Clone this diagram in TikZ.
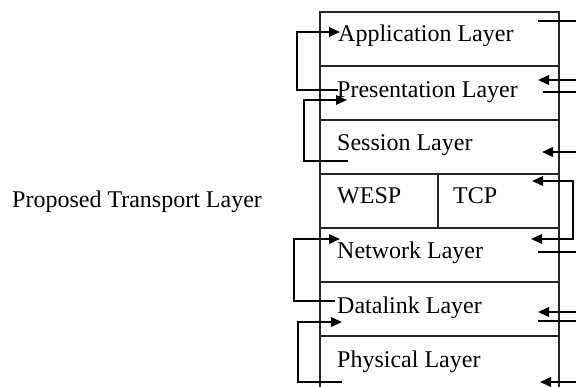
\documentclass[tikz,border=0pt]{standalone}
\usepackage{fontspec}
\setmainfont{Liberation Serif}
\usetikzlibrary{arrows.meta}
\begin{document}
\begin{tikzpicture}[x=1pt,y=-1pt,
  layerbox/.style={draw=black!85,line width=1.2pt,minimum width=239pt,inner sep=0pt,outer sep=0pt},
  lbl/.style={anchor=base west,inner sep=0pt,font=\fontsize{24}{28}\selectfont},
  link/.style={line width=2pt},
  arr/.style={line width=2pt,-{Triangle[length=11pt,width=9.5pt]}},
  darr/.style={line width=2pt,{Triangle[length=11pt,width=9.5pt]}-{Triangle[length=11pt,width=9.5pt]}}]
\useasboundingbox (0,0) rectangle (576,386);
\clip (0,0) rectangle (576,386);
% layer boxes
\node[layerbox,minimum height=54pt] (app) at (439.5,39) {};
\node[layerbox,minimum height=54pt] (pres) at (439.5,93) {};
\node[layerbox,minimum height=54pt] (sess) at (439.5,147) {};
\node[layerbox,minimum height=54pt,minimum width=118pt] (wesp) at (379,201) {};
\node[layerbox,minimum height=54pt,minimum width=121pt] (tcp) at (498.5,201) {};
\node[layerbox,minimum height=54pt] (net) at (439.5,255) {};
\node[layerbox,minimum height=54pt] (dl) at (439.5,309) {};
\node[layerbox,minimum height=60pt] (phy) at (439.5,366) {};
% labels
\node[lbl] (tapp) at (338,41) {Application Layer};
\node[lbl] (tpres) at (337,97) {Presentation Layer};
\node[lbl] (tsess) at (337,150) {Session Layer};
\node[lbl] (twesp) at (337,203) {WESP};
\node[lbl] (ttcp) at (453,203) {TCP};
\node[lbl] (tnet) at (337,258) {Network Layer};
\node[lbl] (tdl) at (337,313) {Datalink Layer};
\node[lbl] (tphy) at (337,367) {Physical Layer};
\node[lbl] (tprop) at (12,207) {Proposed Transport Layer};
% left connector points
\coordinate (l1s) at (338,90); \coordinate (l1a) at (297,90); \coordinate (l1b) at (297,32); \coordinate (l1e) at (340,32);
\coordinate (l2s) at (348,161); \coordinate (l2a) at (304,161); \coordinate (l2b) at (304,100); \coordinate (l2e) at (347,100);
\coordinate (l3s) at (335,301); \coordinate (l3a) at (294,301); \coordinate (l3b) at (294,239); \coordinate (l3e) at (340,239);
\coordinate (l4s) at (342,382); \coordinate (l4a) at (298,382); \coordinate (l4b) at (298,322); \coordinate (l4e) at (342,322);
\draw[arr] (l1s) -- (l1a) -- (l1b) -- (l1e);
\draw[arr] (l2s) -- (l2a) -- (l2b) -- (l2e);
\draw[arr] (l3s) -- (l3a) -- (l3b) -- (l3e);
\draw[arr] (l4s) -- (l4a) -- (l4b) -- (l4e);
% right connector points
\coordinate (r1s) at (538,21); \coordinate (r1e) at (578,21);
\coordinate (r2s) at (578,80); \coordinate (r2e) at (538,80);
\coordinate (r3s) at (543,92); \coordinate (r3e) at (578,92);
\coordinate (r4s) at (578,152); \coordinate (r4e) at (542,152);
\coordinate (r5s) at (532,181); \coordinate (r5a) at (573,181); \coordinate (r5b) at (573,239); \coordinate (r5e) at (531,239);
\coordinate (r6s) at (538,252); \coordinate (r6e) at (578,252);
\coordinate (r7s) at (578,312); \coordinate (r7e) at (538,312);
\coordinate (r8s) at (538,321); \coordinate (r8e) at (578,321);
\coordinate (r9s) at (578,382); \coordinate (r9e) at (540,382);
\draw[link] (r1s) -- (r1e);
\draw[arr] (r2s) -- (r2e);
\draw[link] (r3s) -- (r3e);
\draw[arr] (r4s) -- (r4e);
\draw[darr] (r5s) -- (r5a) -- (r5b) -- (r5e);
\draw[link] (r6s) -- (r6e);
\draw[arr] (r7s) -- (r7e);
\draw[link] (r8s) -- (r8e);
\draw[arr] (r9s) -- (r9e);
\end{tikzpicture}
\end{document}
